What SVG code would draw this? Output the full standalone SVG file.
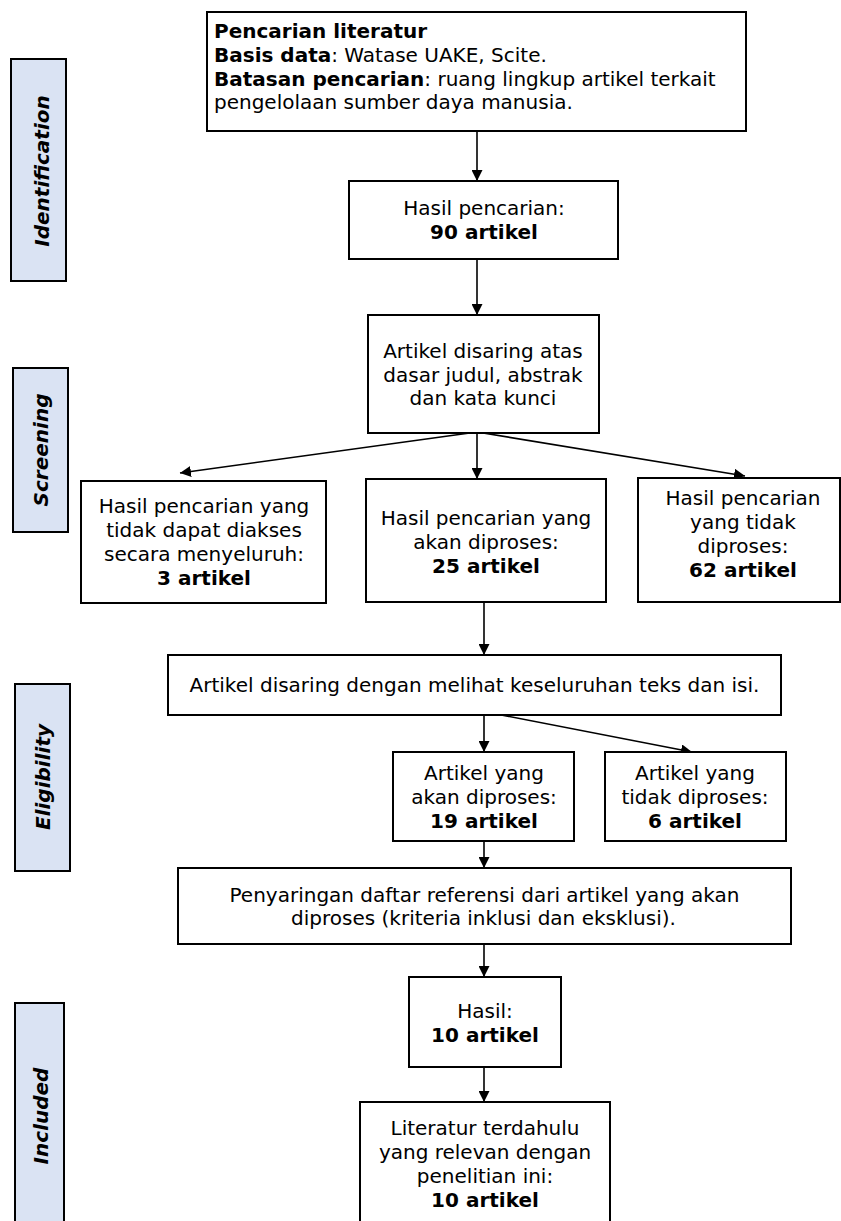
<svg xmlns="http://www.w3.org/2000/svg" width="841" height="1221" viewBox="0 0 841 1221">
<defs>
<style>
.box{fill:#fff;stroke:#000;stroke-width:2}
.bar{fill:#dae3f3;stroke:#000;stroke-width:2}
.t{font-family:"DejaVu Sans",Verdana,sans-serif;font-size:20px;fill:#000}
.c{text-anchor:middle}
.b{font-weight:bold}
.lbl{font-family:"DejaVu Sans",Verdana,sans-serif;font-size:20px;font-weight:bold;font-style:italic;fill:#000;text-anchor:middle}
.con{fill:none;stroke:#000;stroke-width:1.6;marker-end:url(#ah)}
</style>
<marker id="ah" markerUnits="userSpaceOnUse" markerWidth="11" markerHeight="11" refX="11" refY="5.5" orient="auto">
<path d="M0,0 L11,5.5 L0,11 z" fill="#000"/>
</marker>
</defs>
<rect width="841" height="1221" fill="#fff"/>

<g id="phase-identification">
<rect class="bar" x="11" y="59" width="55" height="222"/>
<text class="lbl" transform="translate(48.5,171) rotate(-90)">Identification</text>
</g>
<g id="phase-screening">
<rect class="bar" x="13" y="368" width="55" height="164"/>
<text class="lbl" transform="translate(48,450) rotate(-90)">Screening</text>
</g>
<g id="phase-eligibility">
<rect class="bar" x="15" y="684" width="55" height="187"/>
<text class="lbl" transform="translate(50,777) rotate(-90)">Eligibility</text>
</g>
<g id="phase-included">
<rect class="bar" x="15" y="1003" width="49" height="230"/>
<text class="lbl" transform="translate(48,1116) rotate(-90)">Included</text>
</g>

<g id="connectors">
<line class="con" x1="477" y1="131" x2="477" y2="181"/>
<line class="con" x1="477" y1="259" x2="477" y2="315"/>
<line class="con" x1="477" y1="432" x2="180" y2="473"/>
<line class="con" x1="477" y1="432" x2="477" y2="479"/>
<line class="con" x1="477" y1="432" x2="745" y2="476"/>
<line class="con" x1="484" y1="602" x2="484" y2="655"/>
<line class="con" x1="484" y1="714" x2="484" y2="752"/>
<line class="con" x1="486" y1="712" x2="692" y2="752"/>
<line class="con" x1="484" y1="841" x2="484" y2="868"/>
<line class="con" x1="484" y1="944" x2="484" y2="977"/>
<line class="con" x1="484" y1="1067" x2="484" y2="1102"/>
</g>

<g id="search">
<rect class="box" x="207" y="12" width="539" height="119"/>
<text class="t b" x="214" y="38">Pencarian literatur</text>
<text class="t" x="214" y="62"><tspan class="b">Basis data</tspan>: Watase UAKE, Scite.</text>
<text class="t" x="214" y="85.5"><tspan class="b">Batasan pencarian</tspan>: ruang lingkup artikel terkait</text>
<text class="t" x="214" y="109">pengelolaan sumber daya manusia.</text>
</g>

<g id="result90">
<rect class="box" x="349" y="181" width="269" height="78"/>
<text class="t c" x="484" y="215">Hasil pencarian:</text>
<text class="t c b" x="484" y="239">90 artikel</text>
</g>

<g id="screen">
<rect class="box" x="368" y="315" width="231" height="118"/>
<text class="t c" x="483" y="358">Artikel disaring atas</text>
<text class="t c" x="483" y="381.5">dasar judul, abstrak</text>
<text class="t c" x="483" y="405">dan kata kunci</text>
</g>

<g id="inaccessible">
<rect class="box" x="81" y="481" width="245" height="122"/>
<text class="t c" x="204" y="513">Hasil pencarian yang</text>
<text class="t c" x="204" y="537">tidak dapat diakses</text>
<text class="t c" x="204" y="561">secara menyeluruh:</text>
<text class="t c b" x="204" y="585">3 artikel</text>
</g>

<g id="processed25">
<rect class="box" x="366" y="479" width="240" height="123"/>
<text class="t c" x="486" y="525">Hasil pencarian yang</text>
<text class="t c" x="486" y="549">akan diproses:</text>
<text class="t c b" x="486" y="573">25 artikel</text>
</g>

<g id="notprocessed62">
<rect class="box" x="638" y="478" width="202" height="124"/>
<text class="t c" x="743" y="505">Hasil pencarian</text>
<text class="t c" x="743" y="529">yang tidak</text>
<text class="t c" x="743" y="553">diproses:</text>
<text class="t c b" x="743" y="577">62 artikel</text>
</g>

<g id="fulltext">
<rect class="box" x="168" y="655" width="613" height="60"/>
<text class="t c" x="474.5" y="692">Artikel disaring dengan melihat keseluruhan teks dan isi.</text>
</g>

<g id="processed19">
<rect class="box" x="393" y="752" width="181" height="89"/>
<text class="t c" x="484" y="780">Artikel yang</text>
<text class="t c" x="484" y="804">akan diproses:</text>
<text class="t c b" x="484" y="828">19 artikel</text>
</g>

<g id="notprocessed6">
<rect class="box" x="605" y="752" width="181" height="89"/>
<text class="t c" x="695" y="780">Artikel yang</text>
<text class="t c" x="695" y="804">tidak diproses:</text>
<text class="t c b" x="695" y="828">6 artikel</text>
</g>

<g id="references">
<rect class="box" x="178" y="868" width="613" height="76"/>
<text class="t c" x="484.5" y="902">Penyaringan daftar referensi dari artikel yang akan</text>
<text class="t c" x="483.5" y="925">diproses (kriteria inklusi dan eksklusi).</text>
</g>

<g id="result10">
<rect class="box" x="409" y="977" width="152" height="90"/>
<text class="t c" x="485" y="1018">Hasil:</text>
<text class="t c b" x="485" y="1042">10 artikel</text>
</g>

<g id="literature">
<rect class="box" x="360" y="1102" width="250" height="130"/>
<text class="t c" x="485" y="1135">Literatur terdahulu</text>
<text class="t c" x="485" y="1159">yang relevan dengan</text>
<text class="t c" x="485" y="1183">penelitian ini:</text>
<text class="t c b" x="485" y="1207">10 artikel</text>
</g>
</svg>
